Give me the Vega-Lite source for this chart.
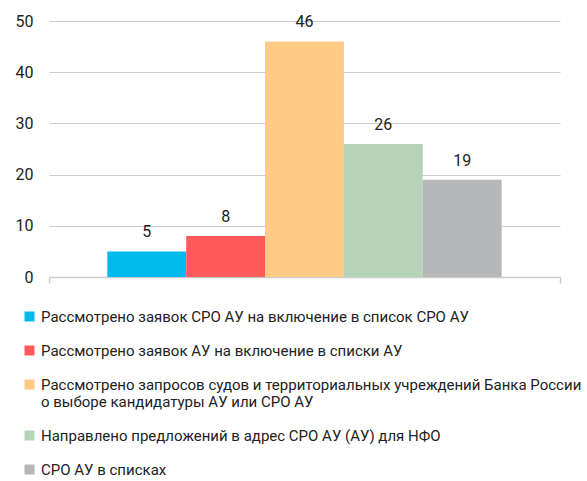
{
  "$schema": "https://vega.github.io/schema/vega-lite/v6.json",
  "width": 511,
  "height": 256,
  "autosize": {"type": "none"},
  "padding": {"left": 49, "top": 21, "right": 27, "bottom": 204},
  "background": "#ffffff",
  "config": {
    "view": {"stroke": null},
    "font": "Roboto",
    "text": {"font": "Roboto"},
    "style": {"guide-label": {"lineHeight": 17}}
  },
  "data": {
    "values": [
      {"g": "all", "series": "Рассмотрено заявок СРО АУ на включение в список СРО АУ", "value": 5},
      {"g": "all", "series": "Рассмотрено заявок АУ на включение в списки АУ", "value": 8},
      {"g": "all", "series": "Рассмотрено запросов судов и территориальных учреждений Банка России о выборе кандидатуры АУ или СРО АУ", "value": 46},
      {"g": "all", "series": "Направлено предложений в адрес СРО АУ (АУ) для НФО", "value": 26},
      {"g": "all", "series": "СРО АУ в списках", "value": 19}
    ]
  },
  "encoding": {
    "x": {
      "field": "g",
      "type": "nominal",
      "title": null,
      "scale": {"paddingInner": 0, "paddingOuter": 0},
      "axis": {
        "labels": false,
        "tickBand": "extent",
        "ticks": true,
        "tickSize": 6,
        "tickColor": "#cccccc",
        "tickWidth": 1.5,
        "domain": true,
        "domainColor": "#cccccc",
        "domainWidth": 1.5,
        "grid": false
      }
    },
    "xOffset": {
      "field": "series",
      "type": "nominal",
      "sort": null,
      "scale": {"paddingInner": 0, "paddingOuter": 0.74}
    },
    "y": {
      "field": "value",
      "type": "quantitative",
      "title": null,
      "scale": {"domain": [0, 50], "nice": false},
      "axis": {
        "values": [0, 10, 20, 30, 40, 50],
        "domain": false,
        "ticks": false,
        "labelPadding": 16,
        "labelFontSize": 16,
        "labelColor": "#222222",
        "gridColor": "#cccccc",
        "gridWidth": 1
      }
    }
  },
  "layer": [
    {
      "mark": {"type": "bar"},
      "encoding": {
        "color": {
          "field": "series",
          "type": "nominal",
          "sort": null,
          "scale": {
            "range": ["#00BAEC", "#FF5A5A", "#FFC986", "#B6D5B8", "#B6B7B9"]
          },
          "legend": {
            "title": null,
            "orient": "none",
            "legendX": -27,
            "legendY": 288,
            "direction": "vertical",
            "symbolType": "square",
            "symbolSize": 100,
            "symbolStrokeWidth": 0,
            "symbolOpacity": 1,
            "labelFontSize": 15,
            "labelColor": "#222222",
            "labelLimit": 600,
            "labelOffset": 4,
            "rowPadding": 18,
            "labelExpr": "split(replace(datum.label, ' о выборе', '|о выборе'), '|')"
          }
        }
      }
    },
    {
      "mark": {"type": "text", "baseline": "bottom", "dy": -11, "fontSize": 16, "color": "#222222"},
      "encoding": {
        "text": {"field": "value", "type": "quantitative"}
      }
    }
  ]
}
